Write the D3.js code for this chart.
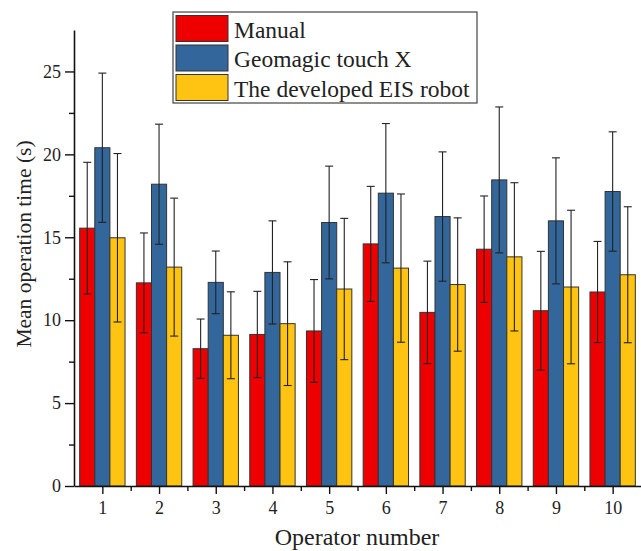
<!DOCTYPE html>
<html>
<head>
<meta charset="utf-8">
<script src="https://cdn.jsdelivr.net/npm/d3@7"></script>
<style>
  body { margin: 0; background: #fff; }
  text { font-family: "Liberation Serif", "Times New Roman", serif; fill: #222; }
</style>
</head>
<body>
<div id="chart"></div>
<script>
var width = 641,
    height = 551;

// data
var operators = [1, 2, 3, 4, 5, 6, 7, 8, 9, 10];
var seriesNames = ["Manual", "Geomagic touch X", "The developed EIS robot"];
var colors = ["#ee0000", "#33669a", "#ffc312"];

var manual      = [15.55, 12.25, 8.28, 9.14, 9.35, 14.6, 10.47, 14.28, 10.57, 11.7];
var manualSd    = [3.97, 3.01, 1.79, 2.6, 3.1, 3.47, 3.09, 3.21, 3.58, 3.05];
var geomagic    = [20.4, 18.2, 12.28, 12.88, 15.89, 17.66, 16.25, 18.46, 15.99, 17.76];
var geomagicSd  = [4.5, 3.62, 1.89, 3.11, 3.4, 4.2, 3.9, 4.4, 3.8, 3.6];
var robot       = [14.97, 13.2, 9.09, 9.79, 11.88, 13.14, 12.15, 13.82, 12.0, 12.74];
var robotSd     = [5.08, 4.16, 2.62, 3.73, 4.26, 4.47, 4.02, 4.47, 4.63, 4.1];

var yTicks = [0, 5, 10, 15, 20, 25];

var values = [manual, geomagic, robot];
var sds = [manualSd, geomagicSd, robotSd];

var margin = {left: 74, right: 0, top: 30, bottom: 65};

var svg = d3.select("#chart")
    .append("svg")
    .attr("width", width)
    .attr("height", height);

var x = d3.scaleLinear()
    .domain([0.5, 10.5])
    .range([margin.left, width - margin.right]);

var y = d3.scaleLinear()
    .domain([0, 27.5])
    .range([height - margin.bottom, margin.top]);

var step = x(2) - x(1);
var barW = step * 0.8 / 3;

var rows = [];
operators.forEach(function(op, i) {
  values.forEach(function(vals, s) {
    rows.push({op: op, s: s, v: vals[i], sd: sds[s][i]});
  });
});

function barX(d) { return x(d.op) - 1.5 * barW + d.s * barW; }

var g = svg.append("g");

g.selectAll(".bar")
  .data(rows)
  .enter().append("rect")
    .attr("class", "bar")
    .attr("x", barX)
    .attr("y", function(d) { return y(d.v); })
    .attr("width", barW)
    .attr("height", function(d) { return y(0) - y(d.v); })
    .style("fill", function(d) { return colors[d.s]; })
    .style("stroke", "#333")
    .style("stroke-width", 1);

// error bars
var err = g.selectAll(".err")
  .data(rows)
  .enter().append("g")
    .attr("class", "err")
    .style("stroke", "#222")
    .style("stroke-width", 1.1);

err.append("line")
    .attr("x1", function(d) { return barX(d) + barW / 2; })
    .attr("x2", function(d) { return barX(d) + barW / 2; })
    .attr("y1", function(d) { return y(d.v - d.sd); })
    .attr("y2", function(d) { return y(d.v + d.sd); });

[-1, 1].forEach(function(sign) {
  err.append("line")
      .attr("x1", function(d) { return barX(d) + barW / 2 - 4; })
      .attr("x2", function(d) { return barX(d) + barW / 2 + 4; })
      .attr("y1", function(d) { return y(d.v + sign * d.sd); })
      .attr("y2", function(d) { return y(d.v + sign * d.sd); });
});

// y axis
svg.append("g")
    .attr("transform", "translate(" + margin.left + ",0)")
    .call(d3.axisLeft(y).tickValues(yTicks).tickSize(9).tickPadding(4).tickSizeOuter(0));

svg.append("g")
    .attr("transform", "translate(" + margin.left + ",0)")
    .call(d3.axisLeft(y).tickValues(d3.range(2.5, 27.5, 5)).tickSize(5).tickFormat("").tickSizeOuter(0))
    .select(".domain").remove();

// x axis
svg.append("g")
    .attr("transform", "translate(0," + y(0) + ")")
    .call(d3.axisBottom(x).tickValues(operators).tickSize(8).tickPadding(7).tickSizeOuter(0));

svg.append("g")
    .attr("transform", "translate(0," + y(0) + ")")
    .call(d3.axisBottom(x).tickValues(d3.range(1.5, 10.5, 1)).tickSize(5).tickFormat("").tickSizeOuter(0))
    .select(".domain").remove();

svg.selectAll(".domain").style("stroke", "#111").style("stroke-width", 1.6);
svg.selectAll(".tick line").style("stroke", "#111").style("stroke-width", 1.4);
svg.selectAll(".tick text")
    .style("font-size", "18px")
    .style("font-family", "'Liberation Serif', serif")
    .style("fill", "#222");

svg.append("text")
    .attr("transform", "translate(31,244) rotate(-90)")
    .attr("text-anchor", "middle")
    .style("font-size", "21.5px")
    .text("Mean operation time (s)");

svg.append("text")
    .attr("x", 357)
    .attr("y", 545)
    .attr("text-anchor", "middle")
    .style("font-size", "24px")
    .text("Operator number");

// legend
var legend = svg.append("g").attr("transform", "translate(173,12)");

legend.append("rect")
    .attr("width", 304)
    .attr("height", 91)
    .style("fill", "#fff")
    .style("stroke", "#444")
    .style("stroke-width", 1.2);

var item = legend.selectAll(".item")
  .data(seriesNames)
  .enter().append("g")
    .attr("class", "item")
    .attr("transform", function(d, i) { return "translate(3," + (3.5 + i * 29.5) + ")"; });

item.append("rect")
    .attr("width", 52)
    .attr("height", 26)
    .style("fill", function(d, i) { return colors[i]; })
    .style("stroke", "#333");

item.append("text")
    .attr("x", 58)
    .attr("y", 22)
    .style("font-size", "23.5px")
    .text(function(d) { return d; });
</script>
</body>
</html>
